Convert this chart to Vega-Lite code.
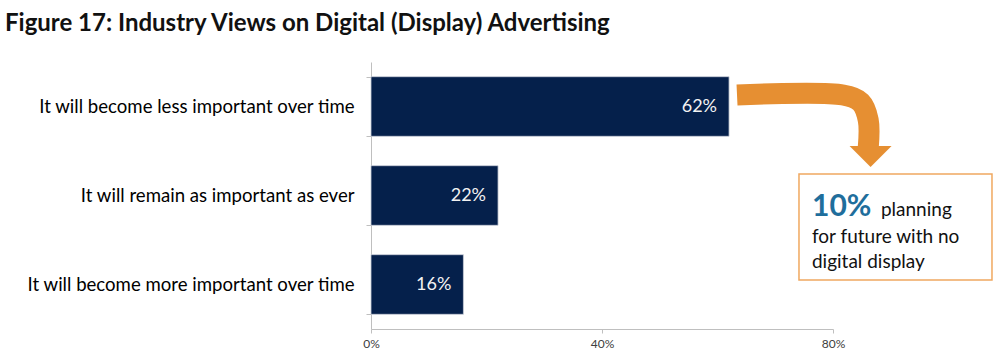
{
  "$schema": "https://vega.github.io/schema/vega-lite/v6.json",
  "autosize": {"type": "none"},
  "width": 462,
  "height": 267,
  "padding": {"left": 371, "top": 62, "right": 167, "bottom": 32},
  "background": "white",
  "title": {
    "text": "Figure 17: Industry Views on Digital (Display) Advertising",
    "anchor": "start",
    "frame": "group",
    "dx": -366,
    "dy": 4,
    "offset": 0,
    "baseline": "alphabetic",
    "font": "Lato",
    "fontSize": 24,
    "fontWeight": "bold",
    "color": "#111111"
  },
  "config": {"view": {"stroke": null}},
  "datasets": {
    "bars": [
      {"view": "It will become less important over time", "pct": 0.62},
      {"view": "It will remain as important as ever", "pct": 0.22},
      {"view": "It will become more important over time", "pct": 0.16}
    ],
    "arrow": [
      {"i": 1, "ax": 0.6338, "ay": 12.36},
      {"i": 2, "ax": 0.8173, "ay": 12.36},
      {"i": 3, "ax": 0.848, "ay": 15.09},
      {"i": 4, "ax": 0.861, "ay": 21.72},
      {"i": 5, "ax": 0.861, "ay": 32.21}
    ],
    "head": [{"ax": 0.865, "ay": 35.39}],
    "box": [{"ax": 0.7411, "ax2": 1.0753, "ay": 41.95, "ay2": 81.65}],
    "big": [{"txt": "10%", "ax": 0.7636, "ay": 57.68}],
    "note": [
      {"txt": "planning", "ax": 0.883, "ay": 57.68},
      {"txt": "for future with no", "ax": 0.7636, "ay": 67.7},
      {"txt": "digital display", "ax": 0.7636, "ay": 77.15}
    ]
  },
  "resolve": {"scale": {"y": "independent"}},
  "layer": [
    {
      "data": {"name": "bars"},
      "mark": {"type": "bar", "color": "#05204B", "stroke": "#C9CED8", "strokeWidth": 0.8},
      "encoding": {
        "y": {
          "field": "view", "type": "nominal", "sort": null, "title": null,
          "scale": {"paddingInner": 0.33, "paddingOuter": 0.165},
          "axis": {
            "tickBand": "extent", "tickSize": 5, "tickColor": "#BFBFBF",
            "domainColor": "#BFBFBF", "labelFont": "Lato", "labelFontSize": 18.6,
            "labelColor": "#000000", "labelPadding": 12, "labelLimit": 400
          }
        },
        "x": {
          "field": "pct", "type": "quantitative", "title": null,
          "scale": {"domain": [0, 0.8], "nice": false},
          "axis": {
            "values": [0, 0.4, 0.8], "format": ".0%", "labelFlush": false,
            "grid": false, "tickSize": 4, "tickColor": "#BFBFBF",
            "domainColor": "#BFBFBF", "labelFont": "Lato", "labelFontSize": 12,
            "labelColor": "#404040", "labelPadding": 5
          }
        }
      }
    },
    {
      "data": {"name": "bars"},
      "mark": {"type": "text", "align": "right", "baseline": "middle", "dx": -12, "font": "Lato", "fontSize": 18, "color": "#F2F2F2"},
      "encoding": {
        "y": {"field": "view", "type": "nominal", "sort": null, "title": null,
          "scale": {"paddingInner": 0.33, "paddingOuter": 0.165}, "axis": null},
        "x": {"field": "pct", "type": "quantitative"},
        "text": {"field": "pct", "type": "quantitative", "format": ".0%"}
      }
    },
    {
      "data": {"name": "arrow"},
      "mark": {"type": "line", "color": "#E68F32", "strokeWidth": 21, "strokeCap": "butt", "interpolate": "catmull-rom"},
      "encoding": {
        "x": {"field": "ax", "type": "quantitative"},
        "y": {"field": "ay", "type": "quantitative", "scale": {"domain": [0, 100], "reverse": true, "nice": false, "zero": false}, "axis": null},
        "order": {"field": "i"}
      }
    },
    {
      "data": {"name": "head"},
      "mark": {"type": "point", "shape": "M-1,-0.5L1,-0.5L0,0.5Z", "filled": true, "color": "#E68F32", "opacity": 1, "size": 1764},
      "encoding": {
        "x": {"field": "ax", "type": "quantitative"},
        "y": {"field": "ay", "type": "quantitative", "scale": {"domain": [0, 100], "reverse": true, "nice": false, "zero": false}, "axis": null}
      }
    },
    {
      "data": {"name": "box"},
      "mark": {"type": "rect", "fill": "white", "stroke": "#F0A860", "strokeWidth": 1.5},
      "encoding": {
        "x": {"field": "ax", "type": "quantitative"},
        "x2": {"field": "ax2"},
        "y": {"field": "ay", "type": "quantitative", "scale": {"domain": [0, 100], "reverse": true, "nice": false, "zero": false}, "axis": null},
        "y2": {"field": "ay2"}
      }
    },
    {
      "data": {"name": "big"},
      "mark": {"type": "text", "align": "left", "baseline": "alphabetic", "font": "Lato", "fontSize": 30, "fontWeight": "bold", "color": "#1F6E9C"},
      "encoding": {
        "x": {"field": "ax", "type": "quantitative"},
        "y": {"field": "ay", "type": "quantitative", "scale": {"domain": [0, 100], "reverse": true, "nice": false, "zero": false}, "axis": null},
        "text": {"field": "txt"}
      }
    },
    {
      "data": {"name": "note"},
      "mark": {"type": "text", "align": "left", "baseline": "alphabetic", "font": "Lato", "fontSize": 19, "color": "#111111"},
      "encoding": {
        "x": {"field": "ax", "type": "quantitative"},
        "y": {"field": "ay", "type": "quantitative", "scale": {"domain": [0, 100], "reverse": true, "nice": false, "zero": false}, "axis": null},
        "text": {"field": "txt"}
      }
    }
  ]
}
